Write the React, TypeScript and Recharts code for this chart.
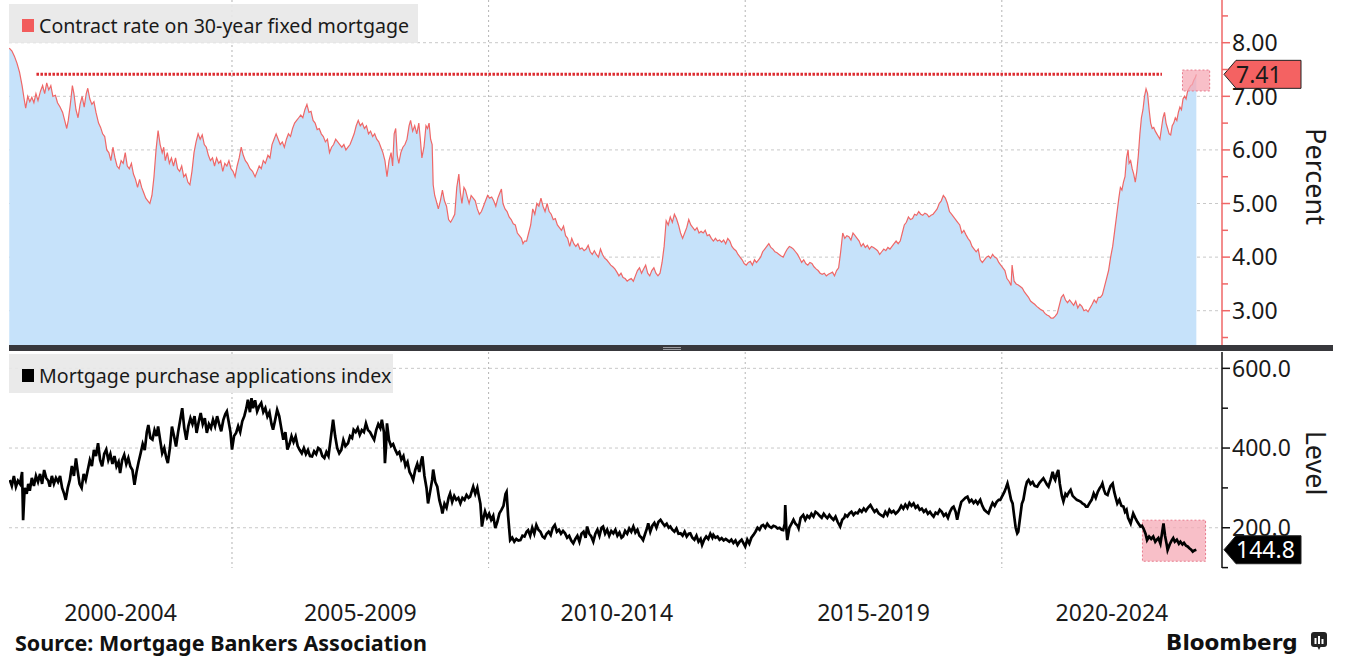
import {
  AreaChart, Area, LineChart, Line, XAxis, YAxis, CartesianGrid,
  ReferenceLine, ReferenceArea, ReferenceDot,
} from 'recharts'

// dates are decimal years
const rateDates = [
  2000.66, 2000.71, 2000.76, 2000.81, 2000.86, 2000.91, 2000.95, 2000.98,
  2001.02, 2001.06, 2001.10, 2001.14, 2001.18, 2001.22, 2001.27, 2001.31, 2001.35, 2001.39, 2001.43, 2001.47, 2001.51, 2001.56, 2001.60, 2001.65, 2001.70, 2001.74, 2001.78, 2001.81, 2001.85, 2001.89, 2001.92, 2001.96,
  2002.00, 2002.04, 2002.08, 2002.12, 2002.16, 2002.19, 2002.23, 2002.27, 2002.31, 2002.35, 2002.40, 2002.44, 2002.48, 2002.52, 2002.56, 2002.60, 2002.64, 2002.68, 2002.72, 2002.76, 2002.80, 2002.84, 2002.88, 2002.92, 2002.96,
  2003.00, 2003.04, 2003.08, 2003.12, 2003.16, 2003.20, 2003.24, 2003.28, 2003.32, 2003.36, 2003.40, 2003.44, 2003.48, 2003.52, 2003.56, 2003.60, 2003.64, 2003.67, 2003.70, 2003.74, 2003.78, 2003.82, 2003.86, 2003.90, 2003.94, 2003.98,
  2004.02, 2004.06, 2004.10, 2004.14, 2004.18, 2004.22, 2004.26, 2004.30, 2004.34, 2004.38, 2004.42, 2004.46, 2004.50, 2004.54, 2004.58, 2004.62, 2004.66, 2004.70, 2004.74, 2004.78, 2004.82, 2004.86, 2004.90, 2004.94, 2004.98,
  2005.02, 2005.06, 2005.10, 2005.14, 2005.18, 2005.22, 2005.26, 2005.30, 2005.35, 2005.40, 2005.45, 2005.49, 2005.53, 2005.57, 2005.61, 2005.65, 2005.70, 2005.74, 2005.78, 2005.82, 2005.86, 2005.90, 2005.94, 2005.98,
  2006.02, 2006.06, 2006.10, 2006.14, 2006.18, 2006.22, 2006.26, 2006.30, 2006.34, 2006.38, 2006.42, 2006.46, 2006.50, 2006.54, 2006.58, 2006.62, 2006.66, 2006.70, 2006.74, 2006.78, 2006.82, 2006.86, 2006.90, 2006.94, 2006.98,
  2007.02, 2007.06, 2007.10, 2007.14, 2007.18, 2007.22, 2007.26, 2007.30, 2007.34, 2007.38, 2007.42, 2007.46, 2007.50, 2007.54, 2007.58, 2007.62, 2007.66, 2007.70, 2007.74, 2007.78, 2007.82, 2007.86, 2007.90, 2007.94, 2007.98,
  2008.02, 2008.06, 2008.10, 2008.13, 2008.16, 2008.19, 2008.22, 2008.25, 2008.29, 2008.33, 2008.37, 2008.41, 2008.45, 2008.48, 2008.52, 2008.56, 2008.60, 2008.64, 2008.67, 2008.70, 2008.74, 2008.78, 2008.81, 2008.84, 2008.87, 2008.90, 2008.92, 2008.95, 2008.98,
  2009.02, 2009.06, 2009.10, 2009.14, 2009.18, 2009.22, 2009.26, 2009.30, 2009.34, 2009.38, 2009.42, 2009.45, 2009.48, 2009.52, 2009.55, 2009.59, 2009.62, 2009.66, 2009.70, 2009.74, 2009.78, 2009.82, 2009.86, 2009.90, 2009.94, 2009.98,
  2010.02, 2010.06, 2010.10, 2010.14, 2010.18, 2010.22, 2010.25, 2010.28, 2010.32, 2010.36, 2010.40, 2010.44, 2010.48, 2010.52, 2010.56, 2010.60, 2010.64, 2010.67, 2010.70, 2010.74, 2010.78, 2010.82, 2010.86, 2010.90, 2010.94, 2010.98,
  2011.02, 2011.06, 2011.10, 2011.14, 2011.18, 2011.22, 2011.26, 2011.30, 2011.34, 2011.38, 2011.42, 2011.46, 2011.50, 2011.54, 2011.58, 2011.62, 2011.66, 2011.70, 2011.74, 2011.78, 2011.82, 2011.86, 2011.90, 2011.94, 2011.98,
  2012.02, 2012.06, 2012.10, 2012.14, 2012.18, 2012.22, 2012.26, 2012.30, 2012.34, 2012.38, 2012.42, 2012.46, 2012.50, 2012.54, 2012.58, 2012.62, 2012.66, 2012.70, 2012.74, 2012.78, 2012.82, 2012.86, 2012.90, 2012.94, 2012.98,
  2013.02, 2013.06, 2013.10, 2013.14, 2013.18, 2013.22, 2013.26, 2013.30, 2013.34, 2013.38, 2013.42, 2013.46, 2013.50, 2013.54, 2013.58, 2013.62, 2013.66, 2013.70, 2013.74, 2013.78, 2013.82, 2013.86, 2013.90, 2013.94, 2013.98,
  2014.02, 2014.06, 2014.10, 2014.14, 2014.18, 2014.22, 2014.26, 2014.30, 2014.34, 2014.38, 2014.42, 2014.46, 2014.50, 2014.54, 2014.58, 2014.62, 2014.66, 2014.70, 2014.74, 2014.78, 2014.82, 2014.86, 2014.90, 2014.94, 2014.98,
  2015.02, 2015.06, 2015.10, 2015.14, 2015.18, 2015.22, 2015.26, 2015.30, 2015.34, 2015.38, 2015.42, 2015.46, 2015.50, 2015.54, 2015.58, 2015.62, 2015.66, 2015.70, 2015.74, 2015.78, 2015.82, 2015.86, 2015.90, 2015.94, 2015.98,
  2016.02, 2016.06, 2016.10, 2016.14, 2016.18, 2016.22, 2016.26, 2016.30, 2016.34, 2016.38, 2016.42, 2016.46, 2016.50, 2016.54, 2016.58, 2016.62, 2016.66, 2016.70, 2016.74, 2016.78, 2016.82, 2016.86, 2016.90, 2016.94, 2016.98,
  2017.02, 2017.06, 2017.10, 2017.14, 2017.18, 2017.22, 2017.26, 2017.30, 2017.34, 2017.38, 2017.42, 2017.46, 2017.50, 2017.54, 2017.58, 2017.62, 2017.66, 2017.70, 2017.74, 2017.78, 2017.82, 2017.86, 2017.90, 2017.94, 2017.98,
  2018.02, 2018.06, 2018.10, 2018.14, 2018.18, 2018.22, 2018.26, 2018.30, 2018.34, 2018.38, 2018.42, 2018.46, 2018.50, 2018.54, 2018.58, 2018.62, 2018.66, 2018.70, 2018.74, 2018.78, 2018.82, 2018.86, 2018.90, 2018.94, 2018.98,
  2019.02, 2019.06, 2019.10, 2019.14, 2019.18, 2019.22, 2019.26, 2019.30, 2019.34, 2019.38, 2019.42, 2019.46, 2019.50, 2019.54, 2019.58, 2019.62, 2019.66, 2019.70, 2019.74, 2019.78, 2019.82, 2019.86, 2019.90, 2019.94, 2019.98,
  2020.02, 2020.06, 2020.10, 2020.14, 2020.18, 2020.20, 2020.24, 2020.28, 2020.32, 2020.36, 2020.40, 2020.44, 2020.48, 2020.52, 2020.56, 2020.60, 2020.64, 2020.68, 2020.72, 2020.76, 2020.80, 2020.84, 2020.88, 2020.92, 2020.96,
  2021.00, 2021.04, 2021.08, 2021.12, 2021.16, 2021.20, 2021.24, 2021.28, 2021.32, 2021.36, 2021.40, 2021.44, 2021.48, 2021.52, 2021.56, 2021.60, 2021.64, 2021.68, 2021.72, 2021.76, 2021.80, 2021.84, 2021.88, 2021.92, 2021.96,
  2022.00, 2022.04, 2022.08, 2022.12, 2022.16, 2022.20, 2022.24, 2022.28, 2022.31, 2022.34, 2022.37, 2022.40, 2022.43, 2022.46, 2022.48, 2022.51, 2022.54, 2022.57, 2022.60, 2022.63, 2022.66, 2022.69, 2022.72, 2022.75, 2022.78, 2022.81, 2022.84, 2022.87, 2022.90, 2022.93, 2022.96, 2022.99,
  2023.02, 2023.05, 2023.08, 2023.11, 2023.14, 2023.17, 2023.20, 2023.23, 2023.26, 2023.29, 2023.32, 2023.35, 2023.38, 2023.41, 2023.44, 2023.47, 2023.50, 2023.53, 2023.56, 2023.59, 2023.62, 2023.65, 2023.68, 2023.71, 2023.74, 2023.77, 2023.79,
]

const rateValues = [
  7.9, 7.85, 7.75, 7.62, 7.45, 7.2, 6.95, 6.78,
  7.0, 6.9, 6.98, 6.88, 7.05, 6.92, 7.1, 7.2, 7.05, 7.25, 7.12, 7.2, 7.0, 7.02, 6.88, 6.8, 6.7, 6.55, 6.4, 6.55, 6.85, 7.2, 7.05, 6.75,
  6.6, 6.85, 7.0, 6.8, 7.05, 7.15, 6.95, 6.85, 6.9, 6.7, 6.5, 6.42, 6.3, 6.25, 6.0, 5.95, 5.8, 6.05, 5.85, 5.7, 5.65, 5.8, 5.75, 5.95, 5.7,
  5.65, 5.75, 5.55, 5.45, 5.3, 5.45, 5.3, 5.2, 5.1, 5.05, 5.0, 5.15, 5.5, 6.0, 6.36, 6.1, 5.95, 6.05, 5.8, 5.95, 5.75, 5.85, 5.7, 5.85, 5.65, 5.6,
  5.7, 5.5, 5.55, 5.4, 5.35, 5.6, 5.95, 6.15, 6.3, 6.2, 6.28, 6.1, 6.05, 5.9, 5.8, 5.85, 5.7, 5.85, 5.75, 5.8, 5.6, 5.75, 5.7, 5.8, 5.65,
  5.6, 5.5, 5.7, 5.85, 6.05, 5.9, 5.8, 5.75, 5.65, 5.6, 5.5, 5.6, 5.7, 5.65, 5.8, 5.75, 5.9, 5.85, 6.1, 6.2, 6.3, 6.2, 6.1, 6.15,
  6.05, 6.2, 6.3, 6.25, 6.4, 6.5, 6.55, 6.6, 6.65, 6.6, 6.75, 6.85, 6.7, 6.72, 6.55, 6.5, 6.38, 6.4, 6.3, 6.25, 6.15, 6.2, 5.95, 6.05, 6.1,
  6.2, 6.15, 6.1, 6.05, 6.1, 6.0, 6.05, 6.1, 6.2, 6.3, 6.45, 6.55, 6.45, 6.5, 6.4, 6.45, 6.3, 6.35, 6.25, 6.3, 6.2, 6.15, 6.05, 5.95, 5.8,
  5.5, 5.8, 5.95, 5.7, 6.3, 6.4, 5.9, 5.75, 5.95, 6.05, 6.1, 6.2, 6.45, 6.55, 6.35, 6.45, 6.3, 6.5, 6.2, 5.85, 6.05, 6.45, 6.4, 6.5, 6.2, 6.1, 5.35, 5.15, 5.05,
  4.9, 5.05, 5.25, 5.05, 4.95, 4.7, 4.65, 4.72, 4.8, 5.3, 5.55, 5.2, 5.0, 5.3, 5.25, 5.1, 5.0, 5.15, 5.1, 5.05, 4.9, 4.8, 4.85, 4.95, 5.05, 5.15,
  5.1, 5.12, 5.05, 4.95, 5.1, 5.2, 5.27, 5.0, 4.9, 4.85, 4.75, 4.7, 4.62, 4.6, 4.45, 4.4, 4.35, 4.25, 4.3, 4.3, 4.45, 4.6, 4.9, 4.8, 5.0, 4.95,
  5.1, 4.95, 4.85, 5.0, 4.85, 4.8, 4.7, 4.72, 4.6, 4.55, 4.5, 4.58, 4.4, 4.35, 4.2, 4.35, 4.25, 4.2, 4.25, 4.15, 4.17, 4.12, 4.15, 4.22, 4.1,
  4.05, 4.12, 4.05, 4.0, 4.15, 4.05, 3.98, 3.95, 3.9, 3.85, 3.82, 3.78, 3.72, 3.65, 3.7, 3.62, 3.6, 3.55, 3.58, 3.6, 3.55, 3.65, 3.75, 3.8, 3.7,
  3.78, 3.85, 3.7, 3.65, 3.75, 3.8, 3.7, 3.65, 3.7, 3.9, 4.2, 4.68, 4.6, 4.75, 4.65, 4.8, 4.72, 4.6, 4.45, 4.35, 4.45, 4.55, 4.7, 4.6, 4.55,
  4.5, 4.55, 4.45, 4.48, 4.45, 4.5, 4.4, 4.42, 4.35, 4.3, 4.35, 4.3, 4.32, 4.28, 4.32, 4.25, 4.35, 4.3, 4.2, 4.15, 4.12, 4.05, 4.0, 3.95, 3.88,
  3.85, 3.9, 3.92, 3.85, 3.95, 3.9, 3.95, 4.0, 4.1, 4.15, 4.2, 4.25, 4.18, 4.15, 4.1, 4.08, 4.05, 4.02, 4.0, 4.08, 4.15, 4.2, 4.18, 4.15, 4.1,
  4.05, 3.98, 3.9, 3.95, 3.88, 3.85, 3.9, 3.88, 3.82, 3.78, 3.75, 3.7, 3.68, 3.7, 3.65, 3.68, 3.7, 3.72, 3.65, 3.75, 3.8, 4.1, 4.45, 4.35, 4.4,
  4.38, 4.32, 4.45, 4.4, 4.35, 4.3, 4.2, 4.25, 4.18, 4.22, 4.15, 4.2, 4.18, 4.15, 4.12, 4.05, 4.1, 4.15, 4.12, 4.18, 4.15, 4.2, 4.25, 4.3, 4.25,
  4.3, 4.45, 4.6, 4.65, 4.75, 4.7, 4.72, 4.8, 4.78, 4.85, 4.8, 4.78, 4.82, 4.8, 4.75, 4.78, 4.8, 4.85, 4.9, 5.0, 5.05, 5.15, 5.1, 5.0, 4.85,
  4.8, 4.75, 4.7, 4.65, 4.6, 4.45, 4.5, 4.42, 4.35, 4.3, 4.2, 4.15, 4.1, 4.15, 3.95, 3.9, 3.95, 4.0, 4.02, 3.98, 4.05, 4.0, 3.98, 3.9, 3.85,
  3.8, 3.75, 3.6, 3.55, 3.47, 3.85, 3.55, 3.5, 3.48, 3.45, 3.42, 3.35, 3.3, 3.25, 3.18, 3.15, 3.12, 3.08, 3.05, 3.02, 3.0, 2.95, 2.92, 2.9, 2.86,
  2.86, 2.9, 2.95, 3.1, 3.25, 3.3, 3.2, 3.15, 3.2, 3.15, 3.1, 3.18, 3.05, 3.12, 3.08, 3.0, 3.02, 2.98, 3.05, 3.12, 3.2, 3.15, 3.25, 3.25, 3.3,
  3.45, 3.6, 3.75, 4.0, 4.2, 4.5, 4.8, 5.1, 5.3, 5.25, 5.4, 5.5, 5.85, 6.0, 5.75, 5.8, 5.65, 5.55, 5.4, 5.6, 5.9, 6.3, 6.6, 6.75, 7.0, 7.14, 7.05, 6.75, 6.5, 6.4, 6.42, 6.35,
  6.3, 6.25, 6.2, 6.4, 6.6, 6.7, 6.5, 6.4, 6.3, 6.28, 6.45, 6.5, 6.6, 6.55, 6.7, 6.8, 6.75, 6.95, 7.0, 6.95, 7.1, 7.15, 7.2, 7.22, 7.3, 7.35, 7.41,
]

const indexDates = [
  2000.67, 2000.71, 2000.75, 2000.79, 2000.83, 2000.87, 2000.91, 2000.93, 2000.96,
  2001.00, 2001.03, 2001.06, 2001.10, 2001.14, 2001.18, 2001.22, 2001.26, 2001.30, 2001.34, 2001.38, 2001.42, 2001.45, 2001.49, 2001.53, 2001.57, 2001.61, 2001.65, 2001.69, 2001.73, 2001.76, 2001.80, 2001.84, 2001.88, 2001.92, 2001.96, 2001.99,
  2002.03, 2002.07, 2002.11, 2002.15, 2002.19, 2002.23, 2002.27, 2002.31, 2002.35, 2002.39, 2002.43, 2002.47, 2002.51, 2002.55, 2002.59, 2002.63, 2002.67, 2002.71, 2002.75, 2002.79, 2002.82, 2002.86, 2002.90, 2002.94, 2002.98,
  2003.02, 2003.06, 2003.10, 2003.14, 2003.18, 2003.22, 2003.26, 2003.30, 2003.34, 2003.37, 2003.41, 2003.45, 2003.49, 2003.53, 2003.56, 2003.60, 2003.64, 2003.68, 2003.72, 2003.75, 2003.79, 2003.83, 2003.87, 2003.91, 2003.95, 2003.99,
  2004.03, 2004.07, 2004.11, 2004.15, 2004.19, 2004.23, 2004.27, 2004.31, 2004.35, 2004.39, 2004.43, 2004.47, 2004.51, 2004.55, 2004.59, 2004.63, 2004.67, 2004.71, 2004.75, 2004.79, 2004.83, 2004.87, 2004.90, 2004.93, 2004.97,
  2005.00, 2005.04, 2005.08, 2005.12, 2005.16, 2005.20, 2005.24, 2005.28, 2005.31, 2005.35, 2005.38, 2005.41, 2005.45, 2005.49, 2005.53, 2005.57, 2005.61, 2005.65, 2005.69, 2005.73, 2005.77, 2005.80, 2005.84, 2005.88, 2005.92, 2005.96,
  2006.00, 2006.04, 2006.08, 2006.12, 2006.16, 2006.20, 2006.24, 2006.28, 2006.32, 2006.36, 2006.40, 2006.44, 2006.48, 2006.52, 2006.56, 2006.60, 2006.64, 2006.68, 2006.72, 2006.76, 2006.80, 2006.84, 2006.88, 2006.92, 2006.97,
  2007.01, 2007.05, 2007.09, 2007.13, 2007.17, 2007.21, 2007.26, 2007.30, 2007.34, 2007.37, 2007.41, 2007.45, 2007.49, 2007.53, 2007.57, 2007.61, 2007.65, 2007.69, 2007.73, 2007.77, 2007.81, 2007.85, 2007.89, 2007.92, 2007.96, 2007.98,
  2008.00, 2008.02, 2008.06, 2008.10, 2008.14, 2008.18, 2008.22, 2008.26, 2008.30, 2008.34, 2008.38, 2008.42, 2008.46, 2008.50, 2008.53, 2008.57, 2008.61, 2008.65, 2008.69, 2008.71, 2008.75, 2008.79, 2008.82, 2008.86, 2008.90, 2008.92, 2008.96,
  2009.00, 2009.04, 2009.08, 2009.10, 2009.14, 2009.18, 2009.22, 2009.25, 2009.29, 2009.33, 2009.37, 2009.41, 2009.45, 2009.49, 2009.53, 2009.57, 2009.61, 2009.64, 2009.68, 2009.70, 2009.74, 2009.78, 2009.80, 2009.84, 2009.87, 2009.90, 2009.93, 2009.97,
  2010.01, 2010.05, 2010.09, 2010.13, 2010.17, 2010.21, 2010.25, 2010.29, 2010.33, 2010.35, 2010.38, 2010.42, 2010.46, 2010.50, 2010.54, 2010.58, 2010.62, 2010.66, 2010.70, 2010.74, 2010.77, 2010.81, 2010.85, 2010.89, 2010.93, 2010.97,
  2011.01, 2011.05, 2011.09, 2011.13, 2011.17, 2011.21, 2011.25, 2011.29, 2011.33, 2011.37, 2011.41, 2011.45, 2011.49, 2011.53, 2011.57, 2011.61, 2011.65, 2011.69, 2011.73, 2011.77, 2011.81, 2011.85, 2011.89, 2011.92, 2011.96,
  2012.00, 2012.04, 2012.08, 2012.12, 2012.16, 2012.20, 2012.23, 2012.27, 2012.31, 2012.35, 2012.39, 2012.43, 2012.47, 2012.51, 2012.55, 2012.59, 2012.62, 2012.66, 2012.70, 2012.74, 2012.78, 2012.82, 2012.86, 2012.90, 2012.94, 2012.98,
  2013.01, 2013.05, 2013.09, 2013.11, 2013.15, 2013.19, 2013.23, 2013.27, 2013.31, 2013.35, 2013.39, 2013.43, 2013.47, 2013.51, 2013.54, 2013.58, 2013.62, 2013.66, 2013.70, 2013.74, 2013.78, 2013.82, 2013.86, 2013.90, 2013.93, 2013.97,
  2014.01, 2014.05, 2014.09, 2014.13, 2014.16, 2014.20, 2014.24, 2014.28, 2014.32, 2014.36, 2014.38, 2014.42, 2014.46, 2014.50, 2014.54, 2014.58, 2014.62, 2014.65, 2014.69, 2014.73, 2014.77, 2014.81, 2014.85, 2014.89, 2014.93, 2014.97,
  2015.00, 2015.04, 2015.08, 2015.12, 2015.16, 2015.20, 2015.24, 2015.28, 2015.32, 2015.35, 2015.39, 2015.43, 2015.47, 2015.51, 2015.55, 2015.59, 2015.63, 2015.67, 2015.71, 2015.74, 2015.77, 2015.78, 2015.80, 2015.82, 2015.86, 2015.90, 2015.94, 2015.98,
  2016.02, 2016.04, 2016.08, 2016.13, 2016.17, 2016.21, 2016.25, 2016.29, 2016.33, 2016.37, 2016.41, 2016.45, 2016.49, 2016.53, 2016.57, 2016.60, 2016.64, 2016.68, 2016.72, 2016.76, 2016.80, 2016.85, 2016.89, 2016.93, 2016.95, 2016.99,
  2017.03, 2017.07, 2017.11, 2017.15, 2017.19, 2017.23, 2017.27, 2017.31, 2017.35, 2017.39, 2017.44, 2017.48, 2017.52, 2017.56, 2017.60, 2017.64, 2017.69, 2017.73, 2017.77, 2017.81, 2017.85, 2017.89, 2017.93, 2017.97,
  2018.00, 2018.04, 2018.08, 2018.12, 2018.16, 2018.20, 2018.24, 2018.28, 2018.32, 2018.36, 2018.40, 2018.44, 2018.48, 2018.52, 2018.56, 2018.60, 2018.64, 2018.67, 2018.71, 2018.75, 2018.79, 2018.83, 2018.87, 2018.91, 2018.95, 2018.99,
  2019.03, 2019.06, 2019.10, 2019.13, 2019.17, 2019.21, 2019.25, 2019.29, 2019.33, 2019.37, 2019.41, 2019.45, 2019.49, 2019.53, 2019.58, 2019.62, 2019.66, 2019.70, 2019.74, 2019.78, 2019.82, 2019.86, 2019.90, 2019.94, 2019.97,
  2020.01, 2020.05, 2020.08, 2020.11, 2020.14, 2020.18, 2020.21, 2020.24, 2020.27, 2020.30, 2020.32, 2020.35, 2020.39, 2020.42, 2020.46, 2020.49, 2020.52, 2020.56, 2020.60, 2020.64, 2020.69, 2020.73, 2020.77, 2020.81, 2020.85, 2020.88, 2020.91, 2020.95, 2020.99,
  2021.02, 2021.04, 2021.07, 2021.10, 2021.13, 2021.17, 2021.20, 2021.24, 2021.27, 2021.31, 2021.34, 2021.38, 2021.42, 2021.46, 2021.50, 2021.54, 2021.57, 2021.61, 2021.64, 2021.67, 2021.71, 2021.75, 2021.79, 2021.83, 2021.87, 2021.91, 2021.94, 2021.96, 2021.99,
  2022.02, 2022.06, 2022.09, 2022.12, 2022.16, 2022.19, 2022.22, 2022.25, 2022.29, 2022.33, 2022.37, 2022.40, 2022.43, 2022.46, 2022.51, 2022.56, 2022.60, 2022.64, 2022.70, 2022.73, 2022.76, 2022.80, 2022.83, 2022.87, 2022.91, 2022.95, 2022.99,
  2023.02, 2023.05, 2023.09, 2023.12, 2023.15, 2023.18, 2023.21, 2023.23, 2023.27, 2023.31, 2023.34, 2023.37, 2023.41, 2023.45, 2023.48, 2023.52, 2023.55, 2023.59, 2023.62, 2023.66, 2023.69, 2023.72, 2023.75, 2023.79,
]

const indexValues = [
  320, 305, 330, 303, 318, 310, 340, 219, 300,
  285, 310, 293, 325, 305, 330, 315, 335, 310, 345, 325, 318, 303, 330, 310, 325, 315, 330, 300, 285, 270, 300, 320, 355, 330, 374, 345,
  310, 300, 335, 320, 345, 370, 355, 395, 380, 412, 370, 354, 385, 396, 370, 385, 360, 380, 354, 365, 337, 370, 383, 360, 375,
  354, 345, 308, 340, 365, 387, 410, 395, 440, 458, 425, 421, 445, 430, 454, 420, 387, 400, 375, 362, 400, 454, 430, 404, 440, 470,
  500, 450, 421, 455, 475, 460, 480, 438, 465, 488, 460, 475, 438, 460, 450, 471, 455, 480, 460, 442, 470, 485, 492, 470, 440,
  396, 430, 438, 455, 440, 467, 480, 500, 521, 490, 525, 500, 520, 492, 505, 513, 490, 500, 479, 490, 460, 446, 470, 496, 480, 450,
  421, 440, 396, 410, 430, 415, 429, 405, 395, 387, 400, 385, 395, 380, 379, 392, 385, 400, 396, 380, 375, 390, 380, 420, 471,
  430, 400, 387, 395, 420, 405, 412, 430, 425, 446, 440, 450, 433, 445, 440, 462, 445, 440, 430, 421, 445, 460, 450, 471, 440, 362,
  400, 462, 420, 405, 410, 396, 385, 390, 371, 380, 355, 365, 340, 330, 320, 345, 360, 340, 370, 379, 330, 300, 261, 290, 320, 346, 315,
  303, 270, 250, 236, 260, 250, 275, 286, 265, 280, 270, 275, 261, 275, 270, 282, 275, 278, 295, 303, 285, 300, 286, 260, 203, 225, 241, 225,
  235, 220, 230, 199, 215, 236, 245, 255, 285, 290, 230, 169, 175, 165, 172, 168, 169, 180, 178, 190, 194, 180, 200, 185, 207, 195,
  190, 178, 174, 185, 190, 182, 200, 207, 190, 195, 185, 192, 186, 175, 180, 168, 161, 172, 180, 165, 185, 190, 175, 203, 185,
  178, 165, 185, 195, 180, 200, 203, 185, 195, 180, 192, 186, 195, 180, 188, 175, 178, 192, 185, 198, 190, 203, 188, 195, 180, 175,
  169, 185, 200, 211, 190, 205, 212, 200, 215, 220, 212, 205, 210, 200, 203, 195, 190, 198, 185, 186, 180, 190, 178, 185, 186, 175,
  170, 180, 165, 172, 157, 170, 178, 172, 185, 175, 182, 175, 178, 170, 174, 168, 172, 169, 165, 170, 162, 168, 157, 165, 170, 160,
  153, 170, 160, 175, 182, 190, 200, 195, 205, 207, 200, 210, 203, 200, 205, 203, 198, 200, 195, 194, 210, 257, 200, 169, 200, 210, 220, 210,
  205, 199, 225, 232, 220, 230, 225, 235, 228, 240, 236, 230, 225, 235, 228, 224, 232, 225, 220, 228, 215, 203, 220, 225, 232, 228,
  236, 240, 232, 238, 236, 245, 240, 248, 242, 250, 257, 248, 240, 245, 236, 232, 228, 240, 232, 245, 238, 242, 235, 240,
  245, 255, 248, 258, 250, 262, 255, 261, 250, 255, 245, 248, 240, 245, 235, 240, 232, 228, 238, 235, 245, 240, 230, 235, 225, 240,
  250, 253, 240, 220, 245, 265, 270, 275, 278, 265, 270, 262, 268, 260, 270, 255, 245, 240, 236, 250, 262, 255, 265, 270, 270,
  280, 290, 300, 311, 295, 270, 261, 230, 200, 186, 190, 220, 260, 270, 300, 315, 320, 310, 315, 305, 303, 312, 318, 324, 315, 308, 303, 320, 340,
  325, 320, 335, 345, 310, 280, 266, 285, 280, 290, 295, 280, 275, 270, 268, 265, 261, 258, 253, 253, 262, 270, 286, 275, 290, 300, 305, 311, 295,
  285, 282, 295, 305, 311, 290, 275, 261, 270, 255, 253, 240, 245, 225, 211, 236, 225, 215, 203, 205, 198, 185, 169, 178, 172, 178, 165,
  170, 174, 160, 185, 211, 180, 160, 144, 158, 168, 174, 165, 170, 160, 165, 158, 162, 155, 153, 148, 145, 140, 143, 144.8,
]

const periodStarts = [2000, 2005, 2010, 2015, 2020]
const periodLabels = ['2000-2004', '2005-2009', '2010-2014', '2015-2019', '2020-2024']
const gridYears = [2005, 2010, 2015, 2020]

const rateTicks = [2.5, 3, 3.5, 4, 4.5, 5, 5.5, 6, 6.5, 7, 7.5, 8, 8.5]
const rateGrid = [3, 4, 5, 6, 7, 8]
const indexTicks = [100, 200, 300, 400, 500, 600]
const indexGrid = [200, 400, 600]

// annotation: dotted line back to the last time the rate was this high
const levelLineFrom = 2001.19
const levelLineTo = 2023.12
const rateBox = { x1: 2023.52, x2: 2024.05, y1: 7.1, y2: 7.49 }
const indexBox = { x1: 2022.74, x2: 2023.97, y1: 116, y2: 219 }

// layout
const W = 1346
const AXIS_W = 124
const PLOT_RIGHT = W - AXIS_W
const TOP_H = 347
const BOTTOM_TOP = 350
const BOTTOM_H = 280
const X_DOMAIN: [number, number] = [2000.655, 2024.29]
const RATE_DOMAIN: [number, number] = [2.323, 8.797]
const INDEX_DOMAIN: [number, number] = [99, 641]
const FONT = '"Noto Sans", sans-serif'
const RED = '#ef6767'
const TEXT = '#1a1a1a'

const rateData = rateDates.map((d, i) => ({ date: d, rate: rateValues[i] }))
const indexData = indexDates.map((d, i) => ({ date: d, index: indexValues[i] }))
const lastRate = rateValues[rateValues.length - 1]
const lastIndex = indexValues[indexValues.length - 1]
const lastDate = rateDates[rateDates.length - 1]

// period labels sit in the middle of the visible part of each 5-year band
const periodCenters = periodStarts.map(s =>
  (Math.max(s, X_DOMAIN[0]) + Math.min(s + 5, X_DOMAIN[1])) / 2)

function AxisTick({ y, payload, major, digits, color }: any) {
  const v = payload.value as number
  const isMajor = major(v)
  return (
    <g>
      <line x1={PLOT_RIGHT} x2={PLOT_RIGHT + (isMajor ? 8 : 6)} y1={y} y2={y} stroke={color} strokeWidth={1.5} />
      {isMajor && (
        <text x={PLOT_RIGHT + 10} y={y} dy="0.36em" fontSize={23} fill={TEXT} fontFamily={FONT}>
          {v.toFixed(digits)}
        </text>
      )}
    </g>
  )
}

function AxisTitle({ viewBox, value, fallbackY }: any) {
  const cx = W - 30
  const cy = viewBox && viewBox.height ? viewBox.y + viewBox.height / 2 + 3 : fallbackY
  return (
    <text x={cx} y={cy} transform={`rotate(90 ${cx} ${cy})`} textAnchor="middle"
      dominantBaseline="central" fontSize={27} fill={TEXT} fontFamily={FONT}>
      {value}
    </text>
  )
}

function Callout({ cy, text, fill, color }: any) {
  const x0 = PLOT_RIGHT + 2
  const h = 28
  return (
    <g>
      <polygon
        points={`${x0},${cy} ${x0 + 12},${cy - h / 2} ${x0 + 77},${cy - h / 2} ${x0 + 77},${cy + h / 2} ${x0 + 12},${cy + h / 2}`}
        fill={fill} stroke="#222" strokeWidth={1} />
      <text x={x0 + 12} y={cy} dy="0.36em" fontSize={23} fill={color} fontFamily={FONT}>{text}</text>
    </g>
  )
}

function LegendTag({ top, width, color, text }: any) {
  return (
    <div style={{
      position: 'absolute', left: 9, top, width, height: 39, boxSizing: 'border-box', paddingTop: 4,
      background: 'rgba(232,232,232,0.9)', display: 'flex', alignItems: 'center',
      fontFamily: FONT, fontSize: 19.6, color: TEXT, whiteSpace: 'nowrap',
    }}>
      <span style={{ flex: '0 0 12px', width: 12, height: 13, background: color, marginLeft: 13, marginRight: 5 }} />
      <span>{text}</span>
    </div>
  )
}

export default function App() {
  return (
    <div style={{ position: 'absolute', left: 0, top: 0, width: W, height: 660, background: '#fff', overflow: 'hidden' }}>
      <div style={{ position: 'absolute', left: 0, top: 0 }}>
        <AreaChart width={W} height={TOP_H} data={rateData} margin={{ top: 0, right: 0, bottom: 0, left: 9 }}>
          <CartesianGrid vertical={false} horizontalValues={rateGrid} stroke="#c8c8c8" strokeDasharray="3 3" />
          <CartesianGrid horizontal={false} verticalValues={gridYears} stroke="#b4b4b4" strokeDasharray="2 3" />
          <XAxis type="number" dataKey="date" domain={X_DOMAIN} allowDataOverflow hide />
          <YAxis
            orientation="right" type="number" width={AXIS_W} domain={RATE_DOMAIN} allowDataOverflow
            ticks={rateTicks} interval={0} axisLine={{ stroke: RED, strokeWidth: 1.5 }} tickLine={false}
            tick={<AxisTick major={(v: number) => Number.isInteger(v)} digits={2} color={RED} />}
            label={(p: any) => <AxisTitle {...p} value="Percent" fallbackY={177} />}
          />
          <Area type="linear" dataKey="rate" stroke={RED} strokeWidth={1.2} fill="#c6e2fa" fillOpacity={1}
            dot={false} activeDot={false} isAnimationActive={false} />
          <ReferenceLine segment={[{ x: levelLineFrom, y: lastRate }, { x: levelLineTo, y: lastRate }]}
            stroke="#dc2a2f" strokeWidth={3} strokeDasharray="2.5 1.5" />
          <ReferenceArea x1={rateBox.x1} x2={rateBox.x2} y1={rateBox.y1} y2={rateBox.y2}
            fill="#f6a9b6" fillOpacity={0.75} stroke="#e77a8c" strokeDasharray="2 2" />
          <ReferenceDot x={lastDate} y={lastRate} r={0}
            shape={(p: any) => <Callout cy={p.cy} text={lastRate.toFixed(2)} fill="#f46262" color={TEXT} />} />
        </AreaChart>
      </div>

      <div style={{ position: 'absolute', left: 0, top: BOTTOM_TOP }}>
        <LineChart width={W} height={BOTTOM_H} data={indexData} margin={{ top: 2, right: 0, bottom: 0, left: 9 }}>
          <CartesianGrid vertical={false} horizontalValues={indexGrid} stroke="#c8c8c8" strokeDasharray="3 3" />
          <CartesianGrid horizontal={false} verticalValues={gridYears} stroke="#b4b4b4" strokeDasharray="2 3" />
          <XAxis type="number" dataKey="date" domain={X_DOMAIN} allowDataOverflow height={62}
            ticks={periodCenters} interval={0} tickFormatter={(_v: number, i: number) => periodLabels[i]}
            axisLine={false} tickLine={false} tickSize={0} tickMargin={37}
            tick={{ fill: TEXT, fontSize: 23, fontFamily: FONT }} />
          <YAxis
            orientation="right" type="number" width={AXIS_W} domain={INDEX_DOMAIN} allowDataOverflow
            ticks={indexTicks} interval={0} axisLine={{ stroke: '#111', strokeWidth: 1.5 }} tickLine={false}
            tick={<AxisTick major={(v: number) => v % 200 === 0} digits={1} color="#111" />}
            label={(p: any) => <AxisTitle {...p} value="Level" fallbackY={111} />}
          />
          <Line type="linear" dataKey="index" stroke="#000" strokeWidth={2.7} dot={false} activeDot={false}
            isAnimationActive={false} />
          <ReferenceArea x1={indexBox.x1} x2={indexBox.x2} y1={indexBox.y1} y2={indexBox.y2}
            fill="#f6a9b6" fillOpacity={0.75} stroke="#e77a8c" strokeDasharray="2 2" />
          <ReferenceDot x={lastDate} y={lastIndex} r={0}
            shape={(p: any) => <Callout cy={p.cy} text={lastIndex.toFixed(1)} fill="#000" color="#fff" />} />
        </LineChart>
      </div>

      {/* panel divider */}
      <div style={{ position: 'absolute', left: 9, top: 345, width: 1324, height: 6, background: '#38383c' }} />
      <div style={{ position: 'absolute', left: 663, top: 347, width: 18, height: 1, background: '#9a9a9e' }} />
      <div style={{ position: 'absolute', left: 663, top: 349, width: 18, height: 1, background: '#9a9a9e' }} />

      <LegendTag top={4} width={409} color="#f25c5c" text="Contract rate on 30-year fixed mortgage" />
      <LegendTag top={354} width={384} color="#000" text="Mortgage purchase applications index" />

      <div style={{ position: 'absolute', left: 15, top: 632, fontFamily: FONT, fontWeight: 700, fontSize: 21.5, lineHeight: 1, color: '#111', whiteSpace: 'nowrap' }}>
        Source: Mortgage Bankers Association
      </div>
      <div style={{ position: 'absolute', left: 1166, top: 632, fontFamily: '"DejaVu Sans", sans-serif', fontWeight: 700, fontSize: 21.5, lineHeight: 1, color: '#111', whiteSpace: 'nowrap' }}>
        Bloomberg
      </div>
      <svg style={{ position: 'absolute', left: 1311, top: 632 }} width={17} height={19}>
        <rect x={0} y={0} width={16} height={15} rx={3} fill="#222" />
        <polygon points="6,14 10,14 8,18" fill="#222" />
        <rect x={3.5} y={6} width={2} height={6} fill="#fff" />
        <rect x={7} y={4} width={2} height={8} fill="#fff" />
        <rect x={10.5} y={7} width={2} height={5} fill="#fff" />
      </svg>
    </div>
  )
}
